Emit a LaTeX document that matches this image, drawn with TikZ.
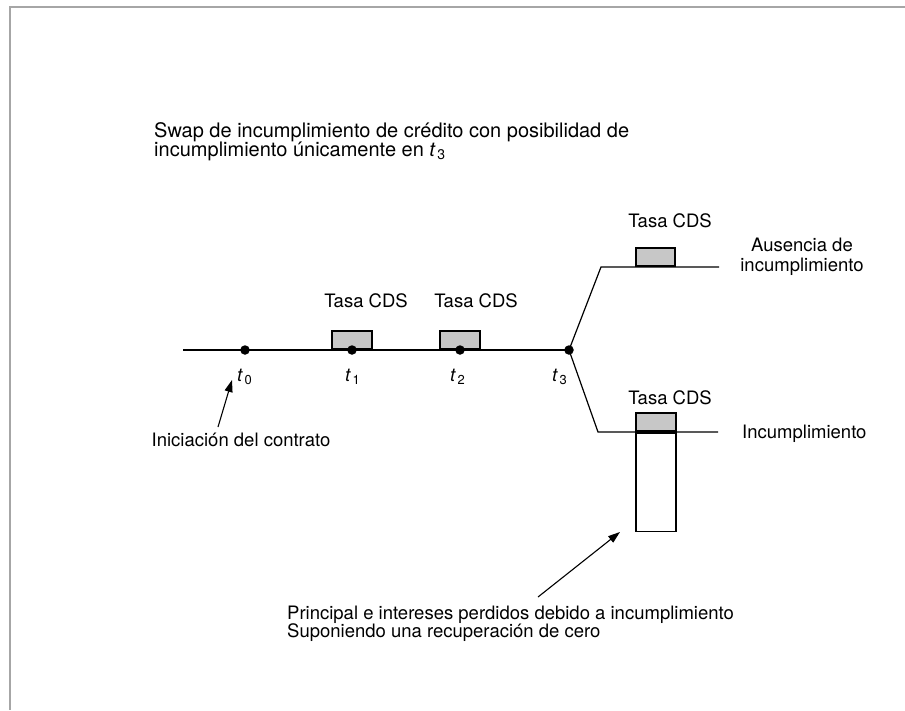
\documentclass[tikz,border=0pt]{standalone}
\usepackage{fontspec}
\setmainfont{TeX Gyre Heros}
\usepackage{tikz}
\usetikzlibrary{arrows.meta,positioning,calc}

\newcommand{\tsub}[1]{\textit{t}\kern1.5pt\textsubscript{#1}}

\begin{document}
\begin{tikzpicture}[x=1pt,y=-1pt,
  txt/.style={font=\fontsize{18.5}{20}\selectfont,inner sep=0pt},
  dot/.style={circle,fill=black,inner sep=0pt,minimum size=9.5pt},
  tline/.style={line width=1.2pt},
  cdsbox/.style={draw,line width=1.8pt,fill=black!22,inner sep=0pt,
    minimum width=39.5pt,minimum height=18pt,anchor=south},
  lossbox/.style={draw,line width=1.8pt,fill=white,inner sep=0pt,
    minimum width=39.5pt,minimum height=98.5pt,anchor=north},
  pointer/.style={line width=1.1pt,-{Triangle[length=12pt,width=8pt]}}]
  \useasboundingbox (0,0) rectangle (905,710);
  \draw[line width=2pt,black!35] (10,710) -- (10,7) -- (905,7);

  \coordinate (s)  at (183,350);
  \coordinate (p0) at (245,350);
  \coordinate (p1) at (352,350);
  \coordinate (p2) at (460,350);
  \coordinate (p3) at (569,350);
  \coordinate (uc) at (601,267);
  \coordinate (ue) at (719,267);
  \coordinate (lc) at (598,432);
  \coordinate (le) at (718,432);

  \draw[tline] (s)--(p3);
  \draw[tline] (p3)--(uc)--(ue);
  \node[lossbox] (loss) at (656,432) {};
  \node[cdsbox] (b1) at (p1) {};
  \node[cdsbox] (b2) at (p2) {};
  \node[cdsbox] (bu) at (655.5,267) {};
  \node[cdsbox] (bl) at (656,432) {};
  \draw[tline] (p3)--(lc)--(le);

  \node[dot] (d0) at (p0) {};
  \node[dot] (d1) at (p1) {};
  \node[dot] (d2) at (p2) {};
  \node[dot] (d3) at (p3) {};

  \node[txt,anchor=base] (r1) at (366,307) {Tasa CDS};
  \node[txt,anchor=base] (r2) at (476,307) {Tasa CDS};
  \node[txt,anchor=base] (ru) at (670,227) {Tasa CDS};
  \node[txt,anchor=base] (rl) at (670,404) {Tasa CDS};

  \node[txt,anchor=base west] (l0) at (237,381) {\tsub{0}};
  \node[txt,anchor=base west] (l1) at (345,381) {\tsub{1}};
  \node[txt,anchor=base west] (l2) at (450,381) {\tsub{2}};
  \node[txt,anchor=base west] (l3) at (552,381) {\tsub{3}};

  \node[txt,font=\fontsize{20}{19}\selectfont,anchor=base west,align=left] (title) at (154,156)
    {Swap de incumplimiento de crédito con posibilidad de\\incumplimiento únicamente en \tsub{3}};
  \node[txt,anchor=base] (init) at (241,446) {Iniciación del contrato};
  \node[txt,anchor=base,align=center] (nodef) at (802,271) {Ausencia de\\incumplimiento};
  \node[txt,anchor=base west] (def) at (742,438) {Incumplimiento};
  \node[txt,font=\fontsize{18.5}{18}\selectfont,anchor=base west,align=left] (lost) at (287,637)
    {Principal e intereses perdidos debido a incumplimiento\\Suponiendo una recuperación de cero};

  \coordinate (a0)    at (218,427);
  \coordinate (a0tip) at (232,380);
  \coordinate (a1)    at (538,597);
  \coordinate (a1tip) at (620,532);
  \draw[pointer] (a0)--(a0tip);
  \draw[pointer] (a1)--(a1tip);
\end{tikzpicture}
\end{document}
